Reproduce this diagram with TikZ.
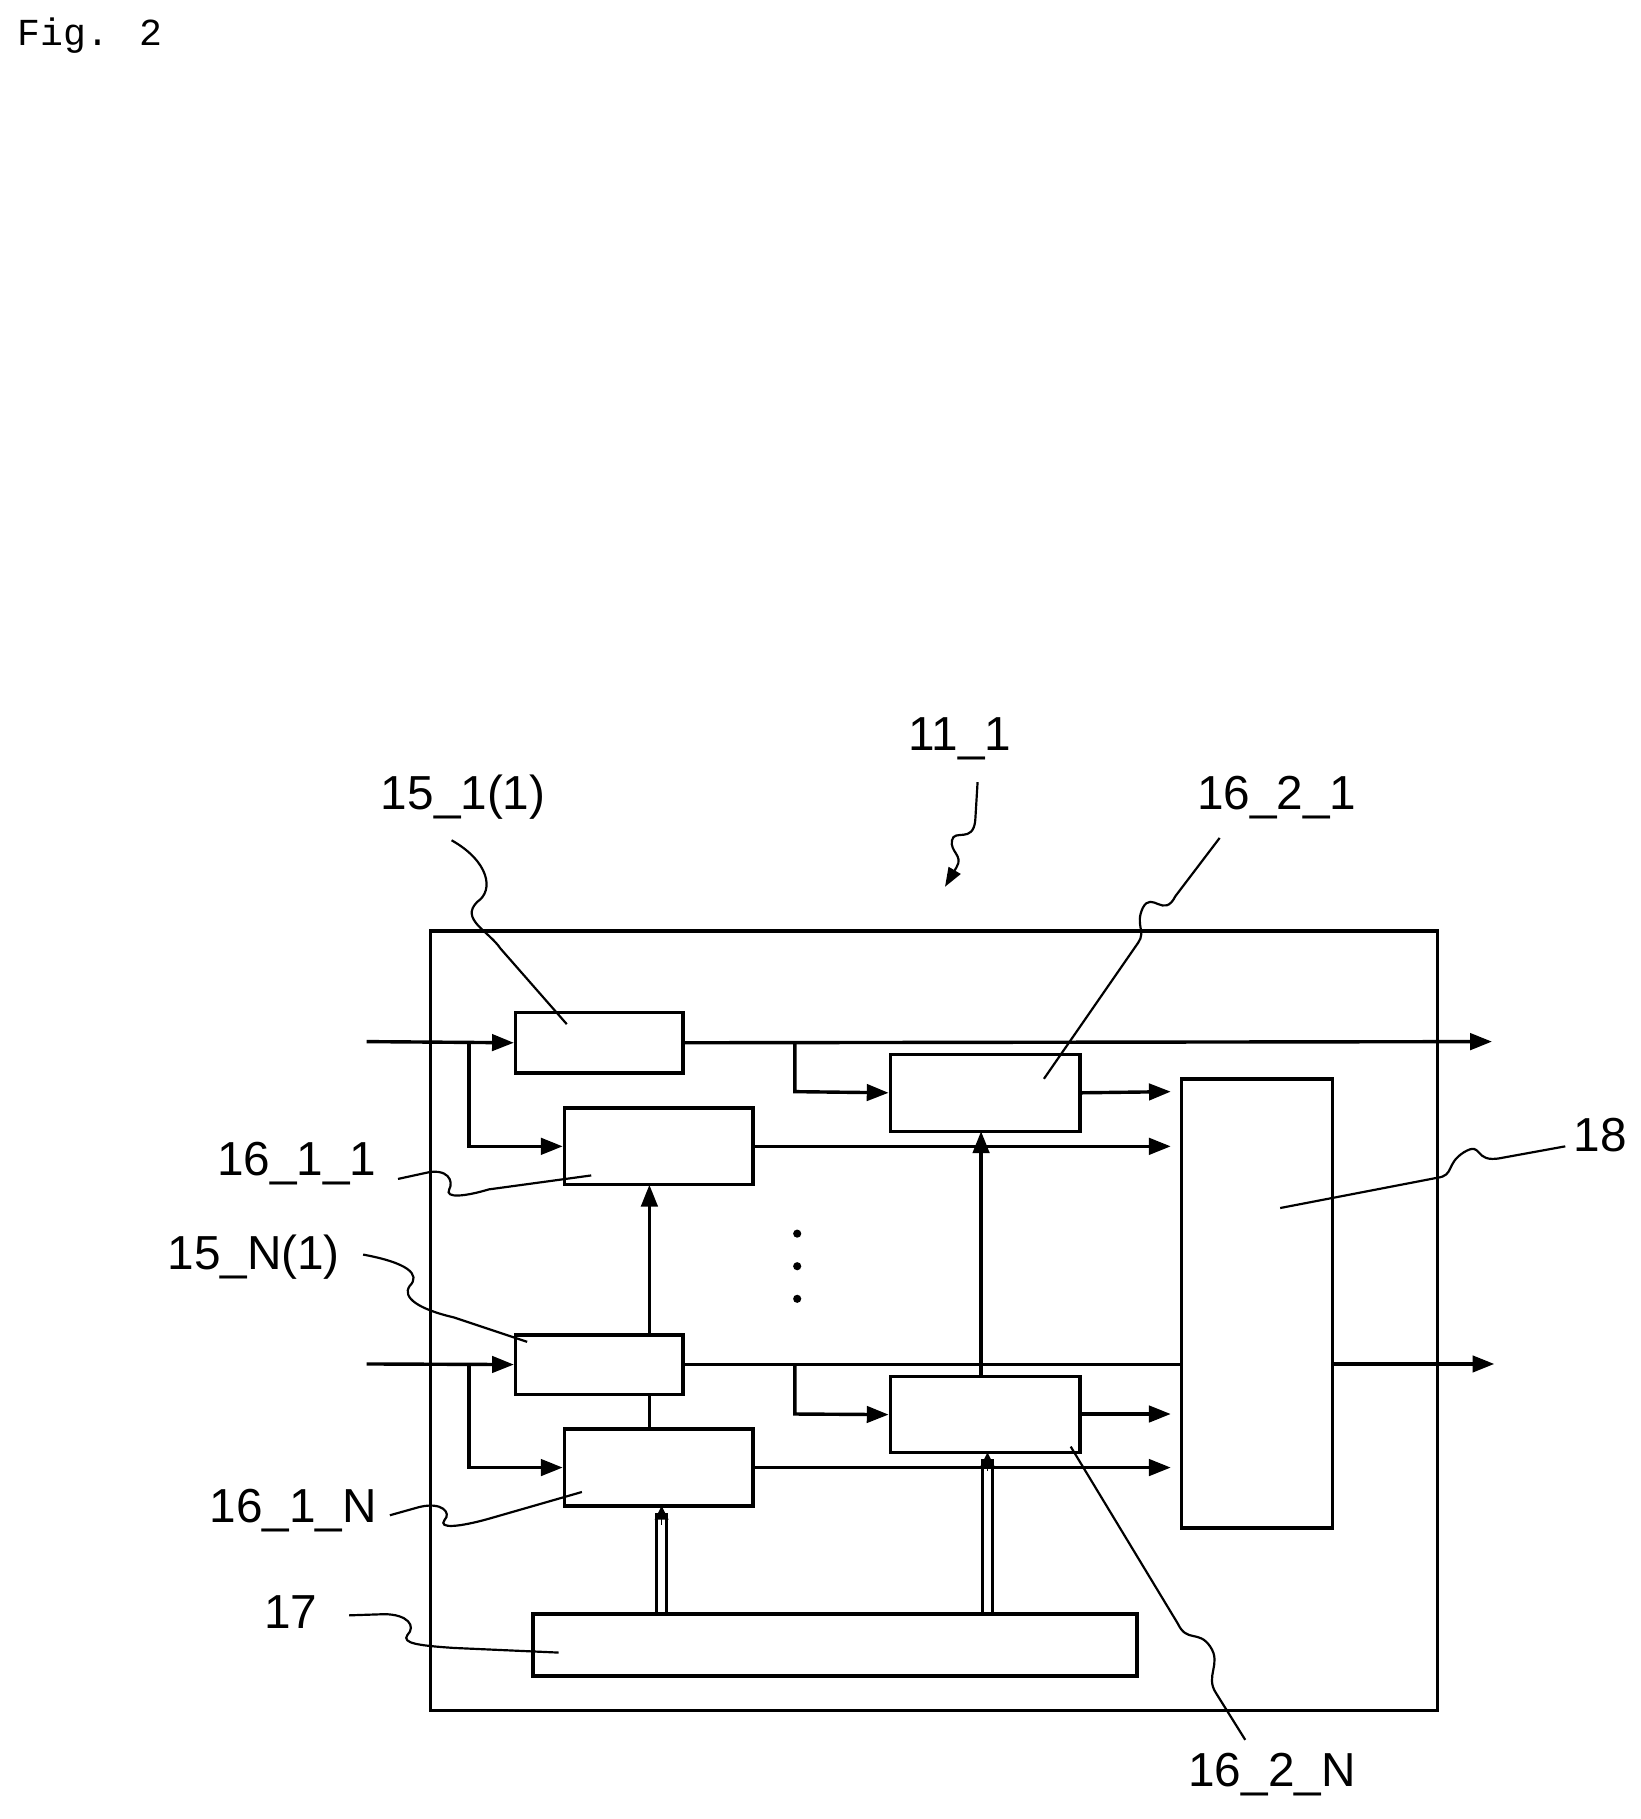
\documentclass[tikz,border=0pt]{standalone}
\usepackage{fontspec}
\setmainfont{Liberation Sans}
\newfontfamily\figmono{Liberation Mono}
\usetikzlibrary{fit,arrows.meta}
\begin{document}
\begin{tikzpicture}[x=0.03cm,y=-0.03cm,
  box/.style={draw,line width=2.5pt,inner sep=0pt},
  ln/.style={line width=2.5pt},
  ar/.style={line width=2.5pt,-{Triangle[length=16pt,width=12pt]}},
  lead/.style={line width=1.6pt},
  lbl/.style={font=\fontsize{35}{40}\selectfont,inner sep=0pt}]
\useasboundingbox (0,0) rectangle (1410,1563);
\node[anchor=north west,inner sep=0pt,font=\figmono\fontsize{28}{30}\selectfont] (fig) at (15,15) {Fig. 2};
\node[box,fit={(370,800)(1235,1470)}] (outer) {};
\node[box,fit={(443,870)(587,922)}] (a1) {};
\node[box,fit={(485,952)(647,1018)}] (b1) {};
\node[box,fit={(765,906)(928,972)}] (c1) {};
\node[box,fit={(1015,927)(1145,1313)}] (m) {};
\node[box,fit={(443,1147)(587,1198)}] (aN) {};
\node[box,fit={(485,1228)(647,1294)}] (bN) {};
\node[box,fit={(765,1183)(928,1248)}] (cN) {};
\node[box,fit={(458,1387)(977,1440)}] (s) {};
% inputs
\coordinate (in1) at (315,895); \coordinate (inN) at (315,1172);
\coordinate (o1) at (1282,895); \coordinate (oN) at (1284,1172);
\draw[ar] (in1) -- (a1.west);
\draw[ar] (403,895) -- (403,985) -- (b1.west);
\draw[ar] (a1.east) -- (o1);
\draw[ar] (683,895) -- (683,938) -- (c1.west);
\draw[ar] (c1.east) -- (1006,938);
\draw[ar] (b1.east) -- (1006,985);
\draw[ar] (inN) -- (aN.west);
\draw[ar] (403,1172) -- (403,1261) -- (bN.west);
\draw[ln] (aN.east) -- (m.west |- aN.east);
\draw[ar] (m.east |- oN) -- (oN);
\draw[ar] (683,1172) -- (683,1215) -- (cN.west);
\draw[ar] (cN.east |- 0,1215) -- (1006,1215);
\draw[ar] (bN.east) -- (1006,1261);
% verticals
\draw[ar] (558,1147) -- (558,1018);
\draw[ln] (558,1228) -- (558,1198);
\draw[ar] (843,1183) -- (843,972);
\draw[line width=2.2pt] (564,1387) -- (564,1300) (573,1387) -- (573,1300);
\draw[line width=1pt,-{Triangle[length=10pt,width=10pt]}] (568.5,1310) -- (568.5,1294);
\draw[line width=2.2pt] (844,1387) -- (844,1254) (853,1387) -- (853,1254);
\draw[line width=1pt,-{Triangle[length=10pt,width=10pt]}] (848.5,1264) -- (848.5,1248);
\foreach \y in {1060,1088,1116} \fill (685,\y) circle (3.5);
% labels
\node[lbl] (l11) at (825,635) {11\_1};
\node[lbl] (l151) at (398,685) {15\_1(1)};
\node[lbl] (l221) at (1097,685) {16\_2\_1};
\node[lbl] (l18) at (1375,975) {18};
\node[lbl] (l111) at (255,1000) {16\_1\_1};
\node[lbl] (l15N) at (218,1080) {15\_N(1)};
\node[lbl] (l1N) at (252,1298) {16\_1\_N};
\node[lbl] (l17) at (250,1385) {17};
\node[lbl] (l2N) at (1093,1525) {16\_2\_N};
% leaders
\draw[lead,-{Triangle[length=14pt,width=10pt]}] (840,672) -- (838,705) .. controls (836,725) and (820,712) .. (818,722) .. controls (816,732) and (828,735) .. (822,745) -- (812,762);
\draw[lead] (388,722) .. controls (420,740) and (425,765) .. (410,775) .. controls (395,790) and (420,800) .. (430,815) -- (487,880);
\draw[lead] (1048,720) -- (1010,770) .. controls (1000,790) and (990,765) .. (982,780) .. controls (975,795) and (985,800) .. (978,810) -- (897,927);
\draw[lead] (1345,985) -- (1290,995) .. controls (1265,1000) and (1275,980) .. (1258,990) .. controls (1242,1000) and (1250,1010) .. (1235,1012) -- (1100,1038);
\draw[lead] (342,1013) -- (365,1008) .. controls (385,1003) and (390,1015) .. (386,1022) .. controls (382,1030) and (400,1028) .. (420,1022) -- (508,1010);
\draw[lead] (312,1078) .. controls (350,1085) and (362,1095) .. (352,1105) .. controls (345,1115) and (360,1125) .. (390,1132) -- (453,1153);
\draw[lead] (335,1302) -- (360,1295) .. controls (380,1290) and (388,1300) .. (382,1306) .. controls (376,1314) and (395,1312) .. (420,1305) -- (500,1282);
\draw[lead] (300,1388) -- (330,1387) .. controls (350,1387) and (358,1397) .. (350,1405) .. controls (345,1412) and (360,1414) .. (390,1416) -- (480,1420);
\draw[lead] (1070,1495) -- (1045,1455) .. controls (1035,1440) and (1050,1430) .. (1040,1415) .. controls (1030,1400) and (1020,1412) .. (1012,1395) -- (920,1243);
\end{tikzpicture}
\end{document}
